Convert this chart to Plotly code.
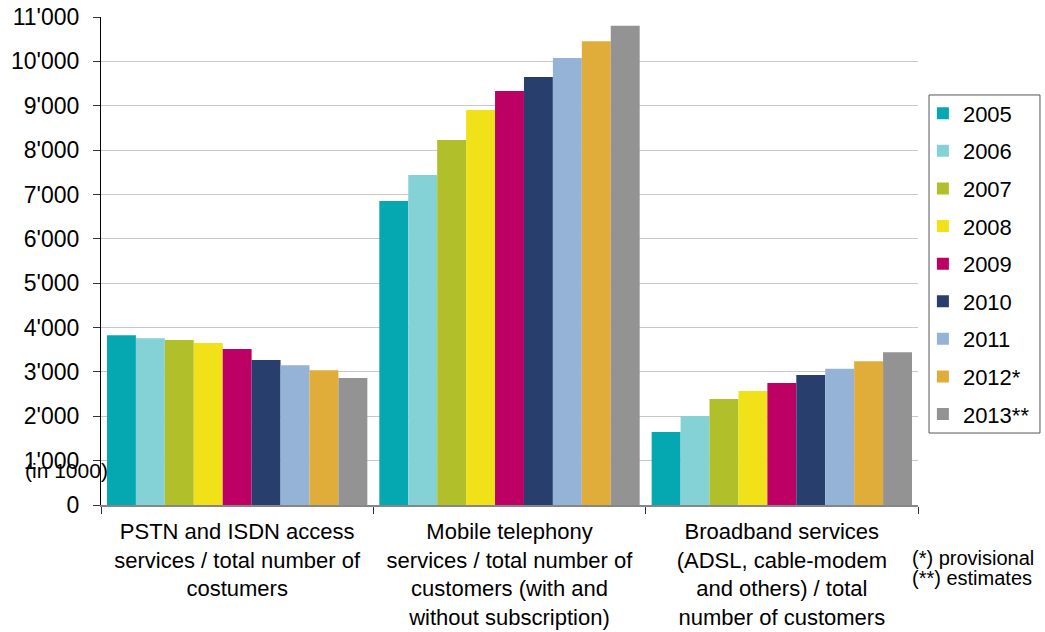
import plotly.graph_objects as go

# Service categories (x axis)
categories = [
    "PSTN and ISDN access<br>services / total number of<br>costumers",
    "Mobile telephony<br>services / total number of<br>customers (with and<br>without subscription)",
    "Broadband services<br>(ADSL, cable-modem<br>and others) / total<br>number of customers",
]

# Years shown as series
years = ["2005", "2006", "2007", "2008", "2009", "2010", "2011", "2012*", "2013**"]

# Customers in thousands, one list per category, ordered by year
pstn_isdn = [3825, 3757, 3720, 3650, 3517, 3270, 3150, 3035, 2863]
mobile = [6853, 7440, 8228, 8905, 9333, 9648, 10077, 10453, 10805]
broadband = [1646, 2006, 2390, 2570, 2750, 2930, 3073, 3240, 3442]

colors = ["#05A8B0", "#84D2D6", "#B1C02A", "#F1E119", "#BC0064",
          "#283F6E", "#95B3D7", "#E0AD3A", "#939393"]

# Y axis ticks
y_tickvals = [0, 1000, 2000, 3000, 4000, 5000, 6000, 7000, 8000, 9000, 10000, 11000]
y_ticktext = ["0", "1'000", "2'000", "3'000", "4'000", "5'000", "6'000",
              "7'000", "8'000", "9'000", "10'000", "11'000"]

FONT = "Liberation Sans, Arial, sans-serif"

fig = go.Figure()
for i, year in enumerate(years):
    fig.add_trace(go.Bar(
        name=year,
        x=categories,
        y=[pstn_isdn[i], mobile[i], broadband[i]],
        marker=dict(color=colors[i], line=dict(width=0)),
        legendgroup=year,
    ))

fig.update_layout(
    width=1045,
    height=632,
    margin=dict(l=101, r=127, t=17, b=127, pad=0, autoexpand=False),
    paper_bgcolor="white",
    plot_bgcolor="white",
    barmode="group",
    bargap=0.044,
    bargroupgap=0,
    font=dict(family=FONT, color="black", size=22),
    showlegend=True,
    legend=dict(
        x=1.006, xanchor="left",
        y=0.494, yanchor="middle",
        borderwidth=0,
        bgcolor="rgba(0,0,0,0)",
        font=dict(size=22, family=FONT, color="black"),
        traceorder="grouped",
        tracegroupgap=6,
        itemwidth=30,
    ),
    xaxis=dict(
        type="category",
        automargin=False,
        showline=True, linecolor="#868686", linewidth=1.5,
        ticks="outside", tickson="boundaries", ticklen=7,
        tickcolor="#333333", tickwidth=1,
        showgrid=False,
        tickfont=dict(size=22, family=FONT, color="black"),
        tickangle=0,
        ticklabelstandoff=6,
    ),
    yaxis=dict(
        range=[0, 11000],
        automargin=False,
        tickvals=y_tickvals, ticktext=y_ticktext,
        showline=True, linecolor="black", linewidth=1,
        ticks="outside", ticklen=7, tickcolor="#333333",
        showgrid=True, gridcolor="#C8C8C8", gridwidth=1,
        zeroline=False,
        tickfont=dict(size=23, family=FONT, color="black"),
        ticklabelstandoff=9,
    ),
)

# Frame around the legend
fig.add_shape(
    type="rect", xref="paper", yref="paper",
    x0=1.0135, x1=1.1493, y0=0.1475, y1=0.8402,
    line=dict(color="#555555", width=1), fillcolor="rgba(0,0,0,0)",
    layer="above",
)

fig.add_annotation(
    text="(in 1000)", xref="paper", yref="paper",
    x=-0.0955, y=0.0717, xanchor="left", yanchor="middle",
    showarrow=False, font=dict(size=21, family=FONT, color="black"),
)
fig.add_annotation(
    text="(*) provisional", xref="paper", yref="paper",
    x=0.990, y=-0.109, xanchor="left", yanchor="middle",
    showarrow=False, font=dict(size=20, family=FONT, color="black"),
)
fig.add_annotation(
    text="(**) estimates", xref="paper", yref="paper",
    x=0.990, y=-0.150, xanchor="left", yanchor="middle",
    showarrow=False, font=dict(size=20, family=FONT, color="black"),
)

fig.write_html("out.html")
